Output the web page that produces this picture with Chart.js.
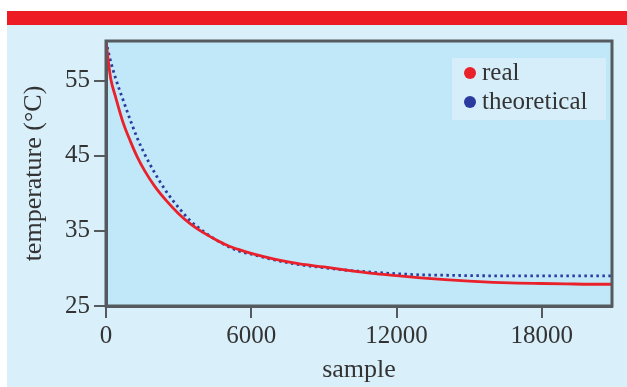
<!DOCTYPE html>
<html>
<head>
<meta charset="utf-8">
<script src="https://cdn.jsdelivr.net/npm/chart.js@4/dist/chart.umd.min.js"></script>
<style>
	html, body { margin: 0; padding: 0; background: #fff; }
	#wrap { width: 627px; height: 387px; }
</style>
</head>
<body>
<div id="wrap"><canvas id="myChart" width="627" height="387"></canvas></div>
<script>
// Values.
const samples = [0, 100, 200, 400, 700, 1000, 1300, 1600, 2000, 2500, 3000, 3500, 4000, 4500, 5000, 5500, 6000, 7000, 8000, 9000, 10000, 11000, 12000, 13000, 14000, 15000, 16000, 17000, 18000, 19000, 20000, 20900];
const realTemps = [60.3, 57.5, 55.2, 52.8, 49.5, 47.0, 44.8, 43.0, 41.0, 39.0, 37.3, 35.9, 34.8, 33.9, 33.1, 32.5, 32.0, 31.2, 30.6, 30.2, 29.75, 29.35, 29.05, 28.75, 28.5, 28.3, 28.15, 28.05, 28.0, 27.95, 27.9, 27.9];
const theoreticalTemps = [60.3, 58.8, 57.5, 55.3, 52.5, 49.8, 47.3, 45.2, 42.8, 40.2, 38.1, 36.3, 35.0, 33.9, 33.0, 32.3, 31.9, 31.1, 30.5, 30.1, 29.75, 29.5, 29.3, 29.15, 29.1, 29.05, 29.02, 29.0, 29.0, 29.0, 29.0, 29.0];
const xTicks = [0, 6000, 12000, 18000];
const yTicks = [25, 35, 45, 55];
const seriesLabels = ["real", "theoretical"];

const RED = "#e9212b";
const BLUE = "#2a3a9e";
const AXIS = "#555a5e";
const TEXT = "#333";
const FONT = "'Liberation Serif', 'DejaVu Serif', serif";

const toPoints = ys => samples.map((x, i) => ({ x, y: ys[i] }));

// Panel, red band, plot background, frame and legend box.
const decor = {
	id: "decor",
	beforeDraw(chart) {
		const { ctx, chartArea: a } = chart;
		ctx.save();
		ctx.fillStyle = "#ffffff";
		ctx.fillRect(0, 0, chart.width, chart.height);
		ctx.fillStyle = "#d9effa";
		ctx.fillRect(7, 25, chart.width - 7, chart.height - 25);
		ctx.fillStyle = "#ed1c24";
		ctx.fillRect(7, 11, chart.width - 7, 14);
		ctx.fillStyle = "#c0e8f8";
		ctx.fillRect(a.left, a.top, a.right - a.left, a.bottom - a.top);
		ctx.restore();
	},
	afterDraw(chart) {
		const { ctx, chartArea: a } = chart;
		ctx.save();
		ctx.strokeStyle = AXIS;
		ctx.lineWidth = 3;
		ctx.strokeRect(a.left, a.top, a.right - a.left, a.bottom - a.top);

		// legend
		ctx.fillStyle = "#d6eefa";
		ctx.fillRect(452, 58, 154, 62);
		const colors = [RED, BLUE];
		ctx.font = "25px " + FONT;
		ctx.textBaseline = "alphabetic";
		seriesLabels.forEach((label, i) => {
			const y = 73 + i * 29;
			ctx.fillStyle = colors[i];
			ctx.beginPath();
			ctx.arc(470, y, 6, 0, Math.PI * 2);
			ctx.fill();
			ctx.fillStyle = TEXT;
			ctx.fillText(label, 482, y + 7);
		});
		ctx.restore();
	}
};

const ctx = document.getElementById("myChart").getContext("2d");
const myChart = new Chart(ctx, {
	type: "line",
	data: {
		datasets: [
			{
				label: seriesLabels[0],
				data: toPoints(realTemps),
				borderColor: RED,
				borderWidth: 2.8,
				pointRadius: 0,
				cubicInterpolationMode: "monotone"
			},
			{
				label: seriesLabels[1],
				data: toPoints(theoreticalTemps),
				borderColor: BLUE,
				borderWidth: 2.8,
				borderDash: [2.5, 3.5],
				pointRadius: 0,
				cubicInterpolationMode: "monotone"
			}
		]
	},
	options: {
		responsive: false,
		animation: false,
		layout: { padding: { left: 0, top: 41, right: 15, bottom: 0 } },
		plugins: {
			legend: { display: false },
			tooltip: { enabled: false }
		},
		scales: {
			x: {
				type: "linear",
				min: 0,
				max: 20900,
				afterFit: s => { s.height = 81; },
				afterBuildTicks: s => { s.ticks = xTicks.map(value => ({ value })); },
				grid: { drawOnChartArea: false, drawTicks: true, tickLength: 12, color: AXIS, lineWidth: 2 },
				border: { display: true, color: AXIS, width: 3 },
				ticks: { color: TEXT, padding: 3, font: { family: FONT, size: 25 }, maxRotation: 0, callback: v => String(v) },
				title: { display: true, text: "sample", color: TEXT, font: { family: FONT, size: 26 }, padding: { top: 0, bottom: 1 } }
			},
			y: {
				type: "linear",
				min: 25,
				max: 60.3,
				afterFit: s => { s.width = 106; },
				afterBuildTicks: s => { s.ticks = yTicks.map(value => ({ value })); },
				grid: { drawOnChartArea: false, drawTicks: true, tickLength: 12, color: AXIS, lineWidth: 2 },
				border: { display: true, color: AXIS, width: 3 },
				ticks: { color: TEXT, padding: 4, font: { family: FONT, size: 25 }, callback: v => String(v) },
				title: { display: true, text: "temperature (°C)", color: TEXT, font: { family: FONT, size: 26 }, padding: { top: 19, bottom: 0 } }
			}
		}
	},
	plugins: [decor]
});
</script>
</body>
</html>
